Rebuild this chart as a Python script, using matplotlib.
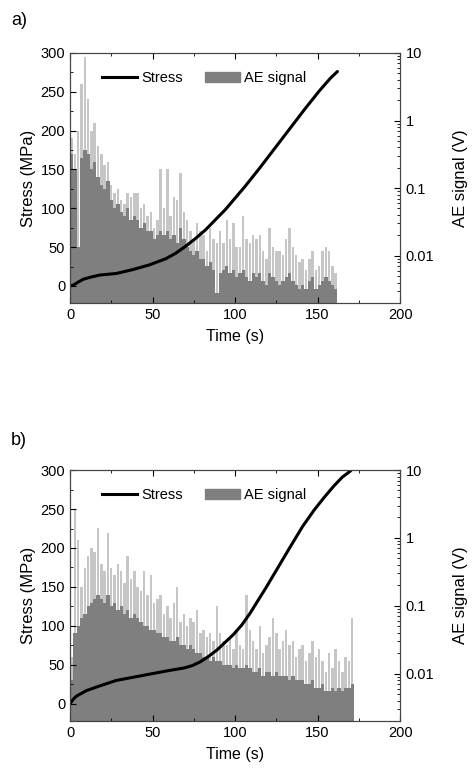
import numpy as np
import matplotlib
matplotlib.use("Agg")
import matplotlib.pyplot as plt
from matplotlib.patches import Patch
from matplotlib.lines import Line2D
from matplotlib.ticker import FixedLocator, LogLocator, NullFormatter

plt.rcParams['font.family'] = ['Liberation Sans', 'DejaVu Sans']

# ---- panel a) data ----
# stress curve (s, MPa)
t_stress_a = [0, 2, 5, 8, 12, 18, 28, 38, 48, 58, 64, 70, 76, 82, 88, 94, 100, 106,
              115, 124, 133, 142, 151, 158, 162]
stress_a = [0, 1, 5, 8.5, 11, 14, 16, 21, 27, 35, 42, 51, 61, 72, 85, 98, 113, 128,
            152, 177, 202, 227, 251, 268, 276]

# AE signal (V), 2 s bins from 0 to 160 s: peak spikes and dense body
ae_peak_a = [0.544, 0.321, 0.71, 3.47, 8.7, 2.05, 0.71, 0.92, 0.418, 0.321,
             0.216, 0.246, 0.111, 0.086, 0.098, 0.066, 0.058, 0.086, 0.075, 0.086,
             0.086, 0.050, 0.058, 0.039, 0.044, 0.026, 0.034, 0.189, 0.050, 0.189,
             0.039, 0.075, 0.066, 0.166, 0.044, 0.034, 0.023, 0.0175, 0.030, 0.023,
             0.020, 0.0118, 0.026, 0.0175, 0.0153, 0.023, 0.0153, 0.034, 0.0175, 0.030,
             0.0134, 0.0134, 0.039, 0.0175, 0.0153, 0.020, 0.0175, 0.020, 0.0118, 0.0090,
             0.026, 0.0134, 0.0118, 0.0118, 0.0103, 0.0175, 0.026, 0.0134, 0.0103, 0.0079,
             0.0090, 0.0061, 0.0090, 0.0118, 0.0061, 0.0070, 0.0118, 0.0134, 0.0118, 0.0070,
             0.0054]
ae_body_a = [0.321, 0.189, 0.0134, 0.281, 0.366, 0.321, 0.189, 0.246, 0.145, 0.111,
             0.098, 0.127, 0.066, 0.050, 0.058, 0.044, 0.039, 0.050, 0.034, 0.039,
             0.034, 0.026, 0.030, 0.023, 0.023, 0.0175, 0.020, 0.023, 0.020, 0.023,
             0.0175, 0.020, 0.0153, 0.026, 0.0175, 0.0134, 0.0118, 0.0103, 0.0118, 0.0090,
             0.0090, 0.0070, 0.0079, 0.0061, 0.0027, 0.0054, 0.0061, 0.0070, 0.0054, 0.0061,
             0.0047, 0.0054, 0.0061, 0.0047, 0.0041, 0.0054, 0.0047, 0.0054, 0.0041, 0.0036,
             0.0054, 0.0047, 0.0041, 0.0036, 0.0041, 0.0047, 0.0054, 0.0041, 0.0036, 0.0031,
             0.0036, 0.0031, 0.0041, 0.0047, 0.0031, 0.0036, 0.0041, 0.0047, 0.0041, 0.0036,
             0.0031]

# ---- panel b) data ----
t_stress_b = [0, 2, 4, 10, 18, 28, 38, 48, 58, 69, 74, 79, 84, 89, 94, 99, 104, 109,
              114, 119, 126, 133, 141, 148, 154, 160, 165, 170]
stress_b = [0, 6, 10, 17, 23, 30, 34, 38, 42, 46, 49, 54, 61, 69, 79, 89, 101, 116,
            133, 150, 175, 200, 228, 249, 265, 280, 291, 299]

# AE signal (V), 2 s bins from 0 to 170 s
ae_peak_b = [0.0175, 2.67, 0.92, 0.189, 0.366, 0.544, 0.71, 0.62, 1.38, 0.418,
             0.321, 1.20, 0.366, 0.281, 0.418, 0.321, 0.216, 0.544, 0.246, 0.321,
             0.189, 0.166, 0.321, 0.145, 0.281, 0.111, 0.127, 0.145, 0.075, 0.098,
             0.066, 0.111, 0.189, 0.058, 0.075, 0.050, 0.066, 0.058, 0.086, 0.039,
             0.044, 0.034, 0.039, 0.030, 0.098, 0.039, 0.030, 0.026, 0.034, 0.023,
             0.044, 0.026, 0.023, 0.145, 0.044, 0.030, 0.023, 0.050, 0.020, 0.026,
             0.034, 0.066, 0.039, 0.023, 0.030, 0.044, 0.026, 0.030, 0.0175, 0.023,
             0.026, 0.0153, 0.020, 0.030, 0.0175, 0.023, 0.0153, 0.0103, 0.020, 0.0118,
             0.023, 0.0153, 0.0103, 0.0175, 0.0153, 0.066]
ae_body_b = [0.0079, 0.039, 0.050, 0.066, 0.075, 0.098, 0.111, 0.127, 0.145, 0.127,
             0.111, 0.145, 0.098, 0.111, 0.086, 0.098, 0.075, 0.086, 0.066, 0.075,
             0.066, 0.058, 0.050, 0.050, 0.044, 0.044, 0.039, 0.039, 0.034, 0.034,
             0.030, 0.030, 0.034, 0.026, 0.026, 0.023, 0.026, 0.023, 0.020, 0.020,
             0.0175, 0.0175, 0.0153, 0.0175, 0.0153, 0.0153, 0.0134, 0.0134, 0.0134, 0.0118,
             0.0134, 0.0118, 0.0118, 0.0134, 0.0118, 0.0103, 0.0103, 0.0118, 0.0090, 0.0103,
             0.0103, 0.0090, 0.0103, 0.0090, 0.0090, 0.0090, 0.0079, 0.0090, 0.0079, 0.0079,
             0.0079, 0.0070, 0.0070, 0.0079, 0.0061, 0.0061, 0.0070, 0.0054, 0.0054, 0.0061,
             0.0054, 0.0061, 0.0054, 0.0061, 0.0061, 0.0070]

body_color = '#7f7f7f'
peak_color = '#c6c6c6'

fig = plt.figure(figsize=(4.73, 7.72), dpi=100)


def draw_panel(rect, letter, letter_dy, t_s, s, peak, body):
    ax = fig.add_axes(rect)
    ax2 = ax.twinx()
    t_ae = np.arange(len(peak)) * 2.0

    # AE bars on the log axis (behind the stress curve)
    ax2.bar(t_ae + 0.2, peak, width=1.5, bottom=1e-4, color=peak_color, linewidth=0, align='edge')
    ax2.bar(t_ae, body, width=2.0, bottom=1e-4, color=body_color, linewidth=0, align='edge')
    ax2.set_yscale('log')
    ax2.set_ylim(0.002, 10)
    ax2.yaxis.set_major_locator(FixedLocator([0.01, 0.1, 1, 10]))
    ax2.set_yticklabels(['0.01', '0.1', '1', '10'])
    ax2.yaxis.set_minor_locator(LogLocator(base=10, subs=np.arange(2, 10)))
    ax2.yaxis.set_minor_formatter(NullFormatter())
    ax2.set_ylabel('AE signal (V)', fontsize=12)
    ax2.yaxis.set_label_coords(1.16, 0.5)
    ax2.tick_params(axis='y', which='major', direction='in', length=4, labelsize=10.5, pad=4)
    ax2.tick_params(axis='y', which='minor', direction='in', length=2)

    # stress curve on left axis, drawn on top
    ax.set_zorder(ax2.get_zorder() + 1)
    ax.patch.set_visible(False)
    ax.plot(t_s, s, color='black', lw=2.2, solid_capstyle='round', solid_joinstyle='round')
    ax.set_xlim(0, 200)
    ax.set_ylim(-22, 300)
    ax.set_xticks([0, 50, 100, 150, 200])
    ax.set_xticks([25, 75, 125, 175], minor=True)
    ax.set_yticks([0, 50, 100, 150, 200, 250, 300])
    ax.set_yticks([25, 75, 125, 175, 225, 275], minor=True)
    ax.tick_params(axis='both', which='major', direction='in', length=4, labelsize=10.5,
                   top=True)
    ax.tick_params(axis='both', which='minor', direction='in', length=2, top=True)
    ax.set_xlabel('Time (s)', fontsize=11.5, labelpad=5)
    ax.set_ylabel('Stress (MPa)', fontsize=12, labelpad=3)
    for sp in ax.spines.values():
        sp.set_color('#444444')
    for sp in ax2.spines.values():
        sp.set_color('#444444')

    handles = [Line2D([], [], color='black', lw=2.2), Patch(color=body_color)]
    ax.legend(handles, ['Stress', 'AE signal'], ncol=2, frameon=False, fontsize=10.5,
              loc='center left', bbox_to_anchor=(0.08, 0.9), handlelength=2.4,
              handletextpad=0.3, columnspacing=1.5, borderaxespad=0)

    fig.text(rect[0] - 0.125, rect[1] + rect[3] + letter_dy, letter, fontsize=13,
             ha='left', va='center')
    return ax, ax2


draw_panel([0.148, 0.6075, 0.698, 0.324], 'a)', 0.042, t_stress_a, stress_a, ae_peak_a, ae_body_a)
draw_panel([0.148, 0.0661, 0.698, 0.325], 'b)', 0.038, t_stress_b, stress_b, ae_peak_b, ae_body_b)

fig.savefig('out.png', dpi=100)
